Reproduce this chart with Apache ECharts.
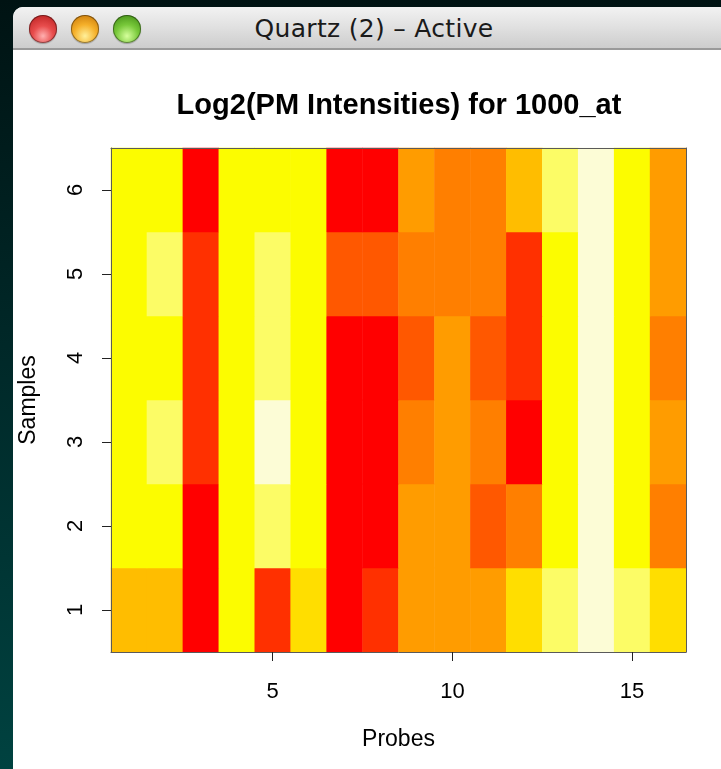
<!DOCTYPE html>
<html>
<head>
<meta charset="utf-8">
<script src="https://cdn.jsdelivr.net/npm/echarts@6/dist/echarts.min.js"></script>
<style>
  html, body { margin: 0; padding: 0; width: 721px; height: 769px; overflow: hidden; }
  body { background: linear-gradient(180deg, #001313 0%, #002828 45%, #004240 100%); position: relative; }
  #win { position: absolute; left: 13px; top: 7px; width: 720px; height: 770px; background: #fff; border-top-left-radius: 10px; overflow: hidden; }
  #bar { height: 41px; background: linear-gradient(180deg, #f2f2f2 0%, #e0e0e0 50%, #cdcdcd 100%); border-bottom: 2px solid #9a9a9a; position: relative; }
  .dot { position: absolute; top: 8px; width: 28px; height: 28px; border-radius: 50%; box-shadow: inset 0 0 0 1px rgba(0,0,0,0.4), 0 1px 1px rgba(0,0,0,0.25); }
  #bar .r { left: 16px; background: radial-gradient(circle at 50% 75%, #ffb0b0 0%, #e84d4d 40%, #b31919 100%); }
  #bar .o { left: 58px; background: radial-gradient(circle at 50% 75%, #fff09a 0%, #f5b02a 45%, #c27004 100%); }
  #bar .g { left: 100px; background: radial-gradient(circle at 50% 75%, #d6ff9c 0%, #78c83a 45%, #3a8510 100%); }
  #ttl { position: absolute; left: 0; width: 722px; top: 7px; text-align: center; font: 25px "DejaVu Sans", sans-serif; color: #1a1a1a; letter-spacing: 0.3px; }
  #chart { position: absolute; left: 0; top: 0; width: 721px; height: 769px; }
</style>
</head>
<body>
<div id="win">
  <div id="bar"><div class="dot r"></div><div class="dot o"></div><div class="dot g"></div><div id="ttl">Quartz (2) – Active</div></div>
</div>
<div id="chart"></div>
<script>
// probes along x, samples along y (sample 1 at the bottom)
var probes = ["1","2","3","4","5","6","7","8","9","10","11","12","13","14","15","16"];
var samples = ["1","2","3","4","5","6"];

// colour level of each cell (0 = red ... 9 = pale cream), one list per sample
var sample1 = [5,5,0,7,1,6,0,1,4,4,4,6,8,9,8,6];
var sample2 = [7,7,0,7,8,7,0,0,4,4,2,3,7,9,7,3];
var sample3 = [7,8,1,7,9,7,0,0,3,4,3,0,7,9,7,4];
var sample4 = [7,7,1,7,8,7,0,0,2,4,2,1,7,9,7,3];
var sample5 = [7,8,1,7,8,7,2,2,3,3,3,1,7,9,7,4];
var sample6 = [7,7,0,7,7,7,0,0,4,3,3,5,8,9,7,4];

var heatColors = ["#ff0000","#ff3000","#ff5800","#ff7f00","#ff9c00","#ffbd00","#ffde00","#fcfc00","#fcfc66","#fcfcd6"];

var rows = [sample1, sample2, sample3, sample4, sample5, sample6];
var cells = [];
rows.forEach(function (row, r) {
  row.forEach(function (v, c) { cells.push([c, r, v]); });
});

var chart = echarts.init(document.getElementById("chart"));
var font = "Liberation Sans";
var showEvery5 = function (idx, val) { return Number(val) % 5 === 0; };

var option = {
  backgroundColor: "transparent",
  animation: false,
  title: {
    text: "Log2(PM Intensities) for 1000_at",
    left: 394, top: 86, textAlign: "center",
    textStyle: { fontFamily: font, fontSize: 29, fontWeight: "bold", color: "#000" }
  },
  grid: { left: 111, right: 35, top: 148, bottom: 117 },
  visualMap: {
    type: "piecewise", show: false, dimension: 2,
    pieces: heatColors.map(function (c, i) { return { value: i, color: c }; })
  },
  xAxis: [{
    type: "category", data: probes, position: "bottom", z: 10,
    name: "Probes", nameLocation: "middle", nameGap: 76,
    nameTextStyle: { fontFamily: font, fontSize: 23, color: "#000" },
    axisLine: { show: true, lineStyle: { color: "#5a5a5a", width: 1 } },
    axisTick: { show: true, alignWithLabel: true, interval: showEvery5, length: 9, lineStyle: { color: "#222" } },
    axisLabel: { interval: showEvery5, margin: 29, fontFamily: font, fontSize: 22, color: "#000" },
    splitLine: { show: false }
  }, {
    type: "category", data: probes, position: "top", z: 10,
    axisLine: { show: true, lineStyle: { color: "#5a5a5a", width: 1 } },
    axisTick: { show: false }, axisLabel: { show: false }
  }],
  yAxis: [{
    type: "category", data: samples, position: "left", z: 10,
    name: "Samples", nameLocation: "middle", nameGap: 71, nameRotate: 90,
    nameTextStyle: { fontFamily: font, fontSize: 23, color: "#000" },
    axisLine: { show: true, lineStyle: { color: "#5a5a5a", width: 1 } },
    axisTick: { show: true, alignWithLabel: true, length: 9, lineStyle: { color: "#222" } },
    axisLabel: { rotate: 90, margin: 24, fontFamily: font, fontSize: 22, color: "#000" },
    splitLine: { show: false }
  }, {
    type: "category", data: samples, position: "right", z: 10,
    axisLine: { show: true, lineStyle: { color: "#5a5a5a", width: 1 } },
    axisTick: { show: false }, axisLabel: { show: false }
  }],
  series: [{
    type: "heatmap",
    xAxisIndex: 0, yAxisIndex: 0,
    data: cells,
    itemStyle: { borderWidth: 0 },
    emphasis: { disabled: true }
  }]
};

option && chart.setOption(option);
</script>
</body>
</html>
